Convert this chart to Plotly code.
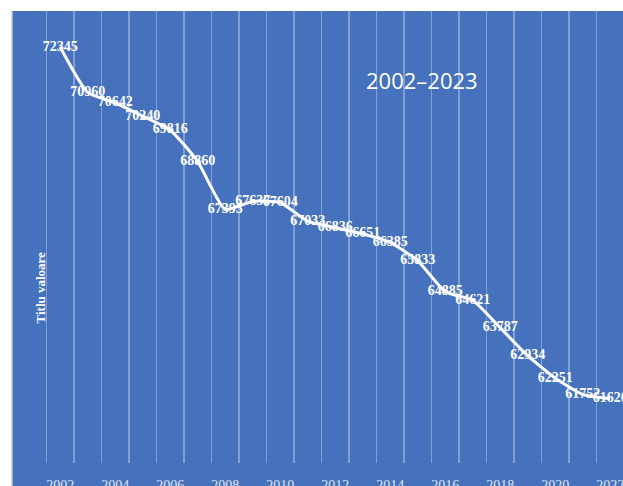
import plotly.graph_objects as go

years = list(range(2002, 2023))
values = [72345, 70960, 70642, 70240, 69816, 68860, 67393, 67637, 67604, 67033,
          66836, 66651, 66385, 65833, 64885, 64621, 63787, 62934, 62251, 61752, 61620]
labels = [str(v) for v in values]
tick_years = list(range(2002, 2023, 2))
title_text = "2002–2023"
y_title = "Titlu valoare"

BLUE = "#4672BD"
W, H = 623, 486
SP = 27.5          # px per year
R0 = 2001.45       # x range start
ML = round(60 - (2002 - R0) * SP)
MT, MB, MR = 11, 23, 0
pw = W - ML - MR
ph = H - MT - MB

fig = go.Figure()
fig.add_trace(go.Scatter(
    x=years, y=values, mode="lines+text", text=labels,
    textposition="middle center",
    textfont=dict(family="Liberation Serif, Times New Roman, serif", size=14, color="white", weight="bold"),
    line=dict(color="white", width=3, shape="spline", smoothing=0.5),
    cliponaxis=False, hoverinfo="skip", showlegend=False,
))

# chart-area background extending left of the plot area
x_left = (12 - ML) / pw
fig.add_shape(type="rect", xref="paper", yref="paper",
              x0=x_left, x1=1.01, y0=-0.1, y1=1,
              fillcolor=BLUE, line=dict(width=0), layer="below")
fig.add_shape(type="line", xref="paper", yref="paper",
              x0=x_left, x1=x_left, y0=-0.1, y1=1,
              line=dict(color="#c8cbd0", width=1.5), layer="below")

fig.add_annotation(text=title_text, xref="paper", yref="paper",
                   x=(422 - ML) / pw, y=1 - (63 - MT) / ph, showarrow=False,
                   font=dict(family="Open Sans, Noto Sans, sans-serif", size=22, color="white"))
fig.add_annotation(text=y_title, xref="paper", yref="paper",
                   x=(30 - ML) / pw, y=1 - (288 - MT) / ph, showarrow=False, textangle=-90,
                   font=dict(family="Liberation Serif, Times New Roman, serif", size=13, color="white", weight="bold"))

fig.update_layout(
    width=W, height=H,
    margin=dict(l=ML, r=MR, t=MT, b=MB, pad=0, autoexpand=False),
    paper_bgcolor="white", plot_bgcolor=BLUE,
    xaxis=dict(range=[R0, R0 + pw / SP], tickvals=tick_years, automargin=False,
               ticktext=[str(t) for t in tick_years], showgrid=False, zeroline=False,
               showline=False, ticks="", ticklabelstandoff=12, ticklabeloverflow="allow",
               tickfont=dict(family="Liberation Serif, Times New Roman, serif", size=14, color="#dfe5ef"),
               minor=dict(tick0=2001.5, dtick=1, showgrid=True,
                          gridcolor="rgba(255,255,255,0.32)", gridwidth=1.5, ticks="")),
    yaxis=dict(range=[59660, 73443], showgrid=False, zeroline=False, showticklabels=False,
               showline=False, ticks="", automargin=False),
)

fig.write_html("out.html", config={"displayModeBar": False, "staticPlot": True},
               post_script="document.body.style.margin='0';document.body.style.overflow='hidden';")
